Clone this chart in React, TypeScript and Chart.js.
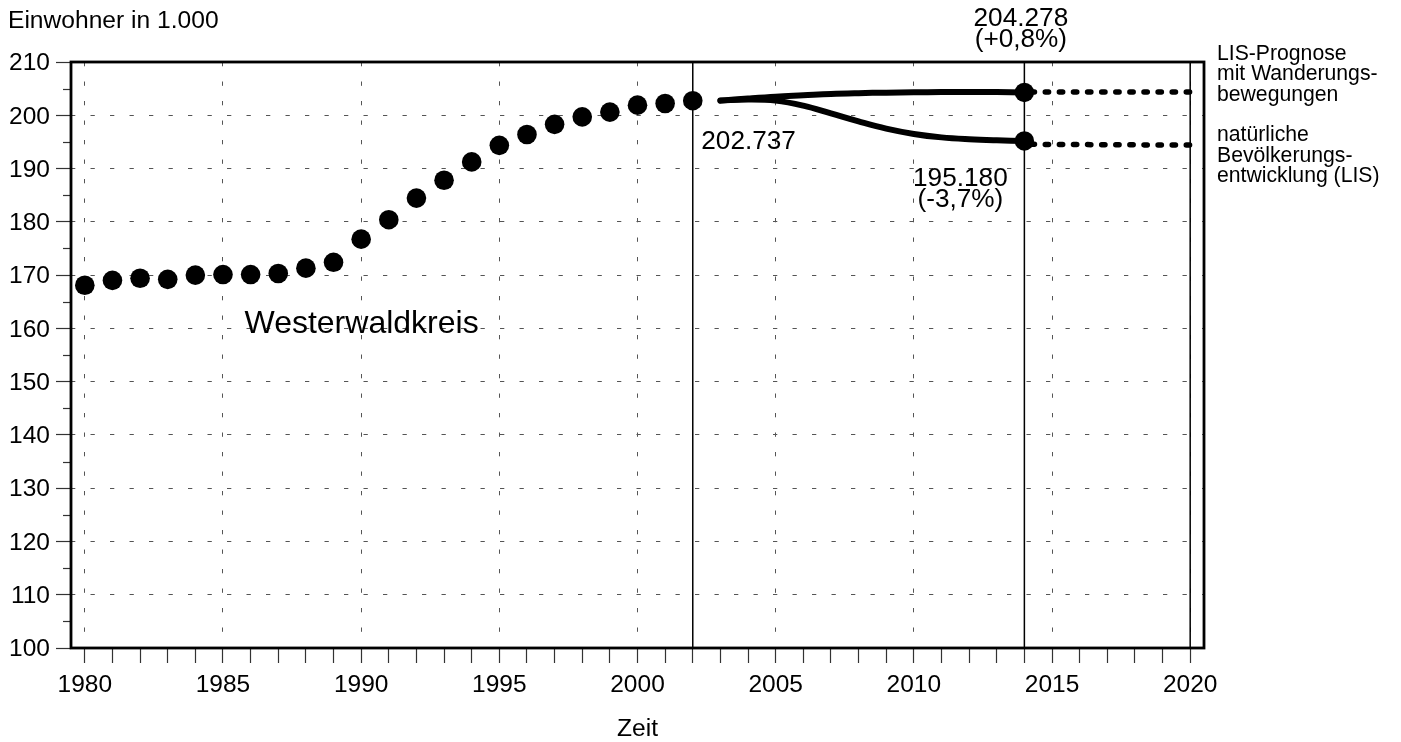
import React, { useEffect, useRef } from 'react';
import { Chart, registerables } from 'chart.js';

Chart.register(...registerables);

// ---------- data ----------
const histYears = [1980, 1981, 1982, 1983, 1984, 1985, 1986, 1987, 1988, 1989, 1990, 1991, 1992, 1993, 1994, 1995, 1996, 1997, 1998, 1999, 2000, 2001, 2002];
const histValues = [168.1, 169.0, 169.4, 169.2, 170.0, 170.1, 170.1, 170.3, 171.3, 172.4, 176.75, 180.4, 184.45, 187.8, 191.25, 194.35, 196.4, 198.3, 199.7, 200.6, 201.9, 202.2, 202.737];

const projYears = [2003, 2004, 2005, 2006, 2007, 2008, 2009, 2010, 2011, 2012, 2013, 2014];
const migrationValues = [202.75, 203.15, 203.5, 203.75, 204.0, 204.15, 204.25, 204.3, 204.35, 204.35, 204.35, 204.278];
const naturalValues = [202.75, 202.95, 202.75, 201.8, 200.35, 198.85, 197.5, 196.5, 195.85, 195.5, 195.3, 195.18];

const endYears = [2014, 2014];
const endValues = [204.278, 195.18];

const tailYears = [2014, 2020];
const tailMigration = [204.35, 204.35];
const tailNatural = [194.55, 194.4];

const markerYears = [2002, 2014, 2020];

const xTickValues = [1980, 1981, 1982, 1983, 1984, 1985, 1986, 1987, 1988, 1989, 1990, 1991, 1992, 1993, 1994, 1995, 1996, 1997, 1998, 1999, 2000, 2001, 2002, 2003, 2004, 2005, 2006, 2007, 2008, 2009, 2010, 2011, 2012, 2013, 2014, 2015, 2016, 2017, 2018, 2019, 2020];
const yTickValues = [100, 105, 110, 115, 120, 125, 130, 135, 140, 145, 150, 155, 160, 165, 170, 175, 180, 185, 190, 195, 200, 205, 210];

const yAxisTitle = 'Einwohner in 1.000';
const xAxisTitle = 'Zeit';
const regionLabel = 'Westerwaldkreis';
const startLabel = '202.737';
const migrationLabel = ['204.278', '(+0,8%)'];
const naturalLabel = ['195.180', '(-3,7%)'];
const legendMigration = ['LIS-Prognose', 'mit Wanderungs-', 'bewegungen'];
const legendNatural = ['natürliche', 'Bevölkerungs-', 'entwicklung (LIS)'];

const FONT = '"Liberation Sans", Arial, Helvetica, sans-serif';

const toXY = (xs: number[], ys: number[]) => xs.map((x, i) => ({ x, y: ys[i] }));

const framePlugin = {
  id: 'framePlugin',
  beforeDatasetsDraw(chart: any) {
    const { ctx, chartArea } = chart;
    const xs = chart.scales.x;
    const ys = chart.scales.y;
    ctx.save();
    // solid vertical markers
    ctx.strokeStyle = '#000';
    ctx.lineWidth = 1.5;
    markerYears.forEach((yr) => {
      const px = xs.getPixelForValue(yr);
      ctx.beginPath();
      ctx.moveTo(px, chartArea.top);
      ctx.lineTo(px, chartArea.bottom);
      ctx.stroke();
    });
    // minor y ticks
    ctx.strokeStyle = '#333';
    ctx.lineWidth = 1.2;
    yTickValues.forEach((v) => {
      if (v % 10 !== 0) {
        const py = Math.round(ys.getPixelForValue(v)) + 0.5;
        ctx.beginPath();
        ctx.moveTo(chartArea.left - 8, py);
        ctx.lineTo(chartArea.left, py);
        ctx.stroke();
      }
    });
    // frame
    ctx.strokeStyle = '#000';
    ctx.lineWidth = 2.8;
    ctx.strokeRect(chartArea.left, chartArea.top, chartArea.right - chartArea.left, chartArea.bottom - chartArea.top);
    ctx.restore();
  },
  afterDraw(chart: any) {
    const { ctx } = chart;
    const xs = chart.scales.x;
    const cx = (chart.chartArea.left + chart.chartArea.right) / 2;
    ctx.save();
    ctx.fillStyle = '#000';
    ctx.textBaseline = 'alphabetic';

    ctx.textAlign = 'left';
    ctx.font = `24.6px ${FONT}`;
    ctx.fillText(yAxisTitle, 8, 28.3);

    ctx.textAlign = 'center';
    ctx.fillText(xAxisTitle, cx, 736);

    ctx.textAlign = 'left';
    ctx.font = `32px ${FONT}`;
    ctx.fillText(regionLabel, 244.5, 333);

    ctx.font = `26.2px ${FONT}`;
    ctx.fillText(startLabel, xs.getPixelForValue(2002) + 8.5, 149);

    ctx.textAlign = 'center';
    const m = xs.getPixelForValue(2014) - 3.5;
    ctx.fillText(migrationLabel[0], m, 26);
    ctx.fillText(migrationLabel[1], m, 46.5);
    const n = xs.getPixelForValue(2014) - 64;
    ctx.fillText(naturalLabel[0], n, 186);
    ctx.fillText(naturalLabel[1], n, 207);

    ctx.textAlign = 'left';
    ctx.font = `21.2px ${FONT}`;
    legendMigration.forEach((t, i) => ctx.fillText(t, 1217, 59.5 + i * 20.7));
    legendNatural.forEach((t, i) => ctx.fillText(t, 1217, 141 + i * 20.7));
    ctx.restore();
  },
};

export default function App() {
  const ref = useRef<HTMLCanvasElement | null>(null);

  useEffect(() => {
    if (!ref.current) return;
    const transparent = 'rgba(0,0,0,0)';
    const chart = new Chart(ref.current, {
      type: 'line',
      data: {
        datasets: [
          {
            label: 'end markers',
            data: toXY(endYears, endValues),
            showLine: false,
            pointRadius: 9.7,
            pointBackgroundColor: '#000',
            pointBorderWidth: 0,
            borderColor: '#000',
          },
          {
            label: 'Westerwaldkreis',
            data: toXY(histYears, histValues),
            showLine: false,
            pointRadius: 9.8,
            pointBackgroundColor: '#000',
            pointBorderWidth: 0,
            borderColor: '#000',
          },
          {
            label: 'LIS-Prognose mit Wanderungsbewegungen',
            data: toXY(projYears, migrationValues),
            borderColor: '#000',
            borderWidth: 6,
            borderCapStyle: 'round',
            tension: 0.4,
            pointRadius: 0,
          },
          {
            label: 'natürliche Bevölkerungsentwicklung (LIS)',
            data: toXY(projYears, naturalValues),
            borderColor: '#000',
            borderWidth: 6,
            borderCapStyle: 'round',
            tension: 0.4,
            pointRadius: 0,
          },
          {
            label: 'tail migration',
            data: toXY(tailYears, tailMigration),
            borderColor: '#000',
            borderWidth: 5.5,
            borderCapStyle: 'round',
            borderDash: [3.3, 10.8],
            borderDashOffset: 7.3,
            pointRadius: 0,
          },
          {
            label: 'tail natural',
            data: toXY(tailYears, tailNatural),
            borderColor: '#000',
            borderWidth: 5.5,
            borderCapStyle: 'round',
            borderDash: [3.3, 10.8],
            borderDashOffset: 7.3,
            pointRadius: 0,
          },
        ],
      } as any,
      options: {
        animation: false,
        responsive: true,
        maintainAspectRatio: false,
        events: [],
        layout: { padding: { left: 0, top: 62, right: 197, bottom: 0 } },
        plugins: {
          legend: { display: false },
          tooltip: { enabled: false },
          title: { display: false },
        },
        scales: {
          x: {
            type: 'linear',
            min: 1979.5,
            max: 2020.5,
            afterBuildTicks: (scale: any) => {
              scale.ticks = xTickValues.map((value) => ({ value }));
            },
            afterFit: (scale: any) => {
              scale.height = 94;
            },
            ticks: {
              autoSkip: false,
              maxRotation: 0,
              padding: 8,
              color: '#000',
              font: { family: FONT, size: 24.5 },
              callback: (v: any) => (Number(v) % 5 === 0 ? String(v) : ''),
            },
            grid: {
              color: (c: any) => (c.tick && c.tick.value % 5 === 0 ? '#555' : transparent),
              lineWidth: 1,
              tickColor: '#333',
              tickWidth: 1.2,
              tickLength: 15,
              drawTicks: true,
            },
            border: { display: false, dash: [4.3, 15.2] },
          },
          y: {
            type: 'linear',
            min: 100,
            max: 210,
            afterBuildTicks: (scale: any) => {
              scale.ticks = yTickValues.map((value) => ({ value }));
            },
            afterFit: (scale: any) => {
              scale.width = 71;
            },
            ticks: {
              autoSkip: false,
              padding: 6,
              labelOffset: 1.5,
              color: '#000',
              font: { family: FONT, size: 24.5 },
              callback: (v: any) => (Number(v) % 10 === 0 ? String(v) : ''),
            },
            grid: {
              color: (c: any) => (c.tick && c.tick.value % 10 === 0 ? '#555' : transparent),
              lineWidth: 1,
              tickColor: (c: any) => (c.tick && c.tick.value % 10 === 0 ? '#333' : transparent),
              tickWidth: 1.2,
              tickLength: 15,
              drawTicks: true,
            },
            border: { display: false, dash: [4.3, 15.2] },
          },
        },
      } as any,
      plugins: [framePlugin],
    });
    return () => chart.destroy();
  }, []);

  return (
    <div style={{ position: 'absolute', left: 0, top: 0, width: 1401, height: 742, background: '#fff' }}>
      <canvas ref={ref} />
    </div>
  );
}
